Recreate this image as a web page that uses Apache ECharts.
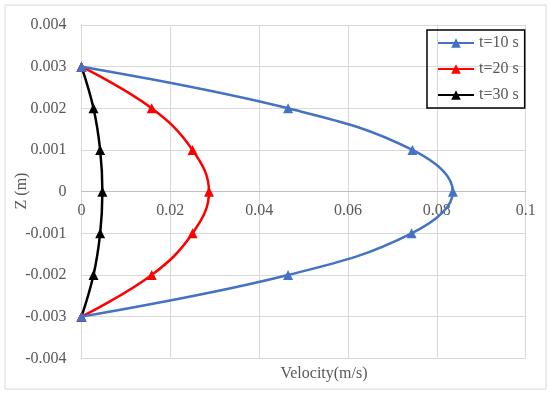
<!DOCTYPE html>
<html>
<head>
<meta charset="utf-8">
<script src="https://cdn.jsdelivr.net/npm/echarts@6/dist/echarts.min.js"></script>
<style>html,body{margin:0;padding:0;background:#fff}#c{width:550px;height:394px}</style>
</head>
<body>
<div id="c"></div>
<script>
var zLevels = [0.003, 0.002, 0.001, 0, -0.001, -0.002, -0.003];
var v10 = [0, 0.0465, 0.0745, 0.0836, 0.0743, 0.0465, 0];
var v20 = [0, 0.0158, 0.0250, 0.0287, 0.0250, 0.0158, 0];
var v30 = [0, 0.0027, 0.0042, 0.0047, 0.0042, 0.0027, 0];
var seriesNames = ['t=10 s', 't=20 s', 't=30 s'];
var seriesColors = ['#4472C4', '#FF0000', '#000000'];
var xTickLabels = ['0', '0.02', '0.04', '0.06', '0.08', '0.1'];
var yTickLabels = ['-0.004', '-0.003', '-0.002', '-0.001', '0', '0.001', '0.002', '0.003', '0.004'];

var font = '"Liberation Serif","Times New Roman",serif';
var gray = '#595959';
function pairs(v){ return v.map(function(x,i){ return [x, zLevels[i]]; }); }
var allVals = [v10, v20, v30];

var gridTop = 25, gridBottom = 35.7;
var plotH = 394 - gridTop - gridBottom;

var chart = echarts.init(document.getElementById('c'));
chart.setOption({
  animation: false,
  backgroundColor: '#fff',
  graphic: [{
    type: 'rect', shape: {x: 5, y: 5, width: 541, height: 384},
    style: {fill: 'none', stroke: '#d9d9d9', lineWidth: 1}, z: -1
  }, {
    type: 'text', x: 22, y: 191, rotation: Math.PI / 2,
    style: {text: 'Z (m)', fontFamily: font, fontSize: 16, fill: gray,
      align: 'center', verticalAlign: 'middle'}
  }],
  title: [
    {text: 'Velocity(m/s)', left: 324, top: 366, textAlign: 'center',
     textStyle: {fontFamily: font, fontSize: 16, fontWeight: 'normal', color: gray}, padding: 0}
  ],
  grid: {left: 81.5, top: gridTop, right: 24.3, bottom: gridBottom},
  legend: {
    orient: 'vertical', left: 427, top: 30,
    itemWidth: 36, itemHeight: 12, itemGap: 10,
    padding: [5, 6, 5, 10],
    borderColor: '#000', borderWidth: 1.5,
    textStyle: {fontFamily: font, fontSize: 16, color: gray, lineHeight: 16},
    data: seriesNames
  },
  xAxis: {
    type: 'value', min: 0, max: 0.1, interval: 0.02,
    offset: -plotH / 2,
    axisLine: {onZero: false, lineStyle: {color: '#bfbfbf', width: 1}},
    axisTick: {show: false},
    splitLine: {lineStyle: {color: '#d9d9d9', width: 1}},
    axisLabel: {fontFamily: font, fontSize: 16, color: gray, margin: 11,
      formatter: function(v){ return xTickLabels[Math.round(v/0.02)]; }}
  },
  yAxis: {
    type: 'value', min: -0.004, max: 0.004, interval: 0.001,
    axisLine: {show: true, onZero: false, lineStyle: {color: '#d9d9d9', width: 1}},
    axisTick: {show: false},
    splitLine: {lineStyle: {color: '#d9d9d9', width: 1}},
    axisLabel: {fontFamily: font, fontSize: 16, color: gray, margin: 15,
      formatter: function(v){ return yTickLabels[Math.round(v/0.001) + 4]; }}
  },
  series: allVals.map(function(v, i){
    return {
      name: seriesNames[i], type: 'line', data: pairs(v), smooth: 0.4,
      symbol: 'triangle', symbolSize: 10, showSymbol: true,
      lineStyle: {color: seriesColors[i], width: 2.5},
      itemStyle: {color: seriesColors[i]},
      z: 10 - i
    };
  })
});
</script>
</body>
</html>
